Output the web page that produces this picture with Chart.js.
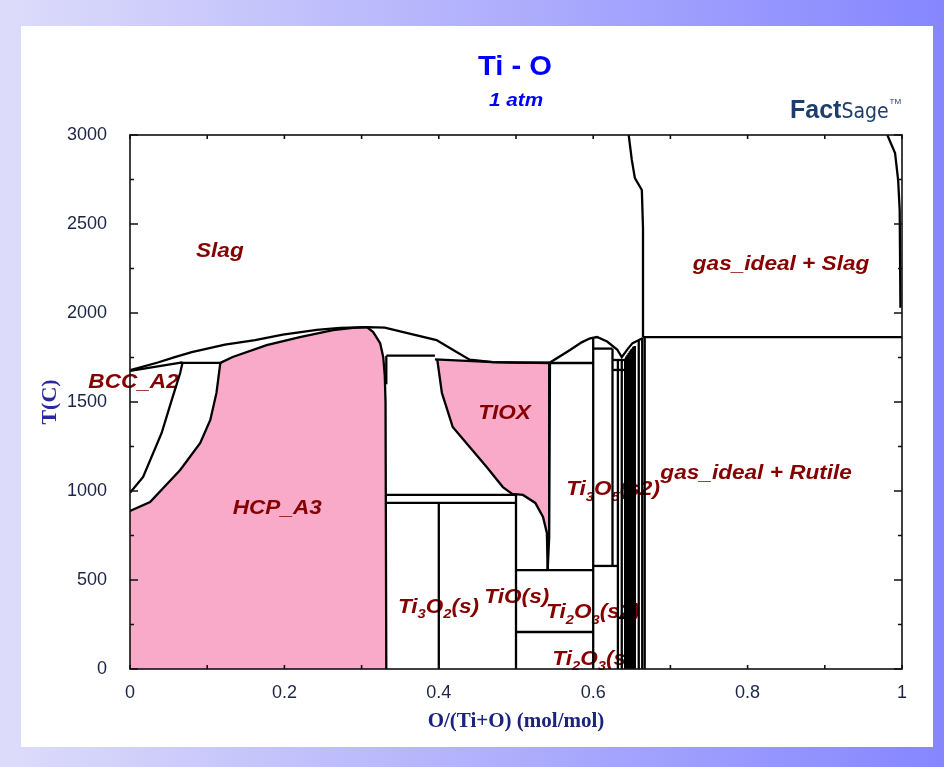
<!DOCTYPE html>
<html>
<head>
<meta charset="utf-8">
<script src="https://cdn.jsdelivr.net/npm/chart.js@4.4.0/dist/chart.umd.min.js"></script>
<style>
  body { margin: 0; }
  #fundo { position: relative; width: 944px; height: 767px; background: linear-gradient(to right, #dddcfa, #8686ff); overflow: hidden; }
  #painel { position: absolute; left: 21px; top: 26px; width: 912px; height: 721px; background: #fff; }
  #grafico { position: absolute; left: 0; top: 0; }
</style>
</head>
<body>
<div id="fundo">
  <div id="painel"></div>
  <canvas id="grafico" width="944" height="767"></canvas>
</div>
<script>
// eixos
const ticksT = [0, 500, 1000, 1500, 2000, 2500, 3000];
const ticksTMenor = [250, 750, 1250, 1750, 2250, 2750];
const ticksX = [0, 0.2, 0.4, 0.6, 0.8, 1];
const ticksXMenor = [0.1, 0.3, 0.5, 0.7, 0.9];

// regioes rosa [x, T]
const regiaoHcp = [[0, 0], [0, 888], [0.026, 938], [0.065, 1118], [0.091, 1270], [0.104, 1399], [0.112, 1551], [0.117, 1720], [0.133, 1753], [0.177, 1820], [0.22, 1865], [0.263, 1904], [0.289, 1916], [0.307, 1921], [0.315, 1893], [0.324, 1831], [0.328, 1753], [0.330, 1650], [0.331, 1500], [0.332, 0], [0, 0]];
const regiaoTiox = [[0.398, 1738], [0.404, 1551], [0.418, 1360], [0.44, 1247], [0.462, 1135], [0.483, 1022], [0.495, 984], [0.509, 978], [0.525, 933], [0.535, 854], [0.54, 764], [0.541, 560], [0.543, 742], [0.544, 1719], [0.47, 1724], [0.398, 1738]];

// linhas de fronteira
const liquidusTi = [[0, 1678], [0.036, 1722], [0.058, 1752], [0.08, 1780], [0.123, 1822], [0.162, 1848], [0.198, 1878], [0.242, 1905], [0.272, 1916], [0.307, 1921], [0.33, 1918], [0.354, 1893], [0.397, 1848], [0.423, 1781], [0.44, 1738], [0.47, 1724], [0.5, 1721]];
const liquidusMeio = [[0.5, 1721], [0.544, 1722], [0.57, 1792], [0.585, 1835], [0.596, 1858], [0.605, 1865], [0.618, 1840], [0.631, 1795], [0.637, 1752], [0.645, 1800], [0.651, 1831], [0.658, 1845], [0.6645, 1860]];
const solidusBcc = [[0, 1675], [0.036, 1700], [0.068, 1722]];
const limiteBcc = [[0.068, 1720], [0.065, 1663], [0.054, 1511], [0.041, 1326], [0.017, 1079], [0, 990]];
const limiteHcpBcc = [[0, 888], [0.026, 938], [0.065, 1118], [0.091, 1270], [0.104, 1399], [0.112, 1551], [0.117, 1720]];
const peritetico = [[0.065, 1720], [0.117, 1720]];
const solidusHcp = [[0.117, 1720], [0.133, 1753], [0.177, 1820], [0.22, 1865], [0.263, 1904], [0.289, 1916], [0.307, 1921]];
const limiteHcpDir = [[0.307, 1921], [0.315, 1893], [0.324, 1831], [0.328, 1753], [0.330, 1650], [0.331, 1500], [0.332, 0]];
const ti2oVertical = [[0.332, 1760], [0.332, 1600]];
const eutetico = [[0.332, 1760], [0.395, 1760]];
const tioxEsquerda = [[0.398, 1738], [0.404, 1551], [0.418, 1360], [0.44, 1247], [0.462, 1135], [0.483, 1022], [0.495, 984], [0.509, 978], [0.525, 933], [0.535, 854], [0.54, 764], [0.541, 556]];
const tioxTopo = [[0.395, 1740], [0.47, 1724], [0.544, 1719]];
const tioxDireita = [[0.544, 1719], [0.543, 742], [0.541, 556]];
const linhasSolidas = [
  [[0.332, 978], [0.5, 978]],
  [[0.332, 933], [0.5, 933]],
  [[0.4, 0], [0.4, 933]],
  [[0.5, 0], [0.5, 978]],
  [[0.5, 556], [0.6, 556]],
  [[0.5, 208], [0.6, 208]],
  [[0.544, 1719], [0.6, 1719]],
  [[0.6, 0], [0.6, 1858]],
  [[0.6, 1800], [0.625, 1800]],
  [[0.625, 579], [0.625, 1800]],
  [[0.6, 579], [0.632, 579]],
  [[0.632, 0], [0.632, 1736]],
  [[0.637, 0], [0.637, 1736]],
  [[0.625, 1736], [0.64, 1736]],
  [[0.625, 1680], [0.64, 1680]],
  [[0.632, 287], [0.643, 287]],
  [[0.659, 0], [0.659, 1842]],
  [[0.6635, 0], [0.6635, 1855]],
  [[0.6667, 0], [0.6667, 1865]]
];
const magneli = [0.6415, 0.6429, 0.6445, 0.6460, 0.6475, 0.649, 0.6505, 0.652, 0.6538];
const topoMagneli = [1745, 1755, 1765, 1775, 1785, 1795, 1800, 1810, 1815];
const gasSlagEsq = [[0.6645, 1865], [0.6645, 2478], [0.663, 2691], [0.654, 2758], [0.65, 2860], [0.646, 3000]];
const gasSlagDir = [[0.981, 3000], [0.991, 2899], [0.995, 2747], [0.997, 2579], [0.998, 2030]];
const linhaGas = [[0.6645, 1865], [1, 1865]];

const rotulos = [
  { t: 'Slag', x: 0.0855, T: 2343 },
  { t: 'BCC_A2', x: -0.054, T: 1607 },
  { t: 'HCP_A3', x: 0.133, T: 904 },
  { t: 'TIOX', x: 0.451, T: 1433 },
  { t: 'Ti_3O_5(s2)', x: 0.565, T: 1006 },
  { t: 'gas_ideal + Rutile', x: 0.687, T: 1101 },
  { t: 'gas_ideal + Slag', x: 0.729, T: 2275 },
  { t: 'Ti_3O_2(s)', x: 0.347, T: 348 },
  { t: 'TiO(s)', x: 0.459, T: 404 },
  { t: 'Ti_2O_3(s2)', x: 0.539, T: 315 },
  { t: 'Ti_2O_3(s', x: 0.547, T: 56 }
];

const rosa = '#f9aac8';
const fonte = '"Liberation Sans", Arial, sans-serif';

function pontos(lista) {
  return lista.map(p => ({ x: p[0], y: p[1] }));
}

function linha(lista, largura) {
  return {
    data: pontos(lista),
    showLine: true,
    borderColor: '#000',
    borderWidth: largura || 2.3,
    pointRadius: 0,
    fill: false,
    order: 0
  };
}

const datasets = [
  { data: pontos(regiaoHcp), showLine: true, borderWidth: 0, borderColor: rosa, backgroundColor: rosa, pointRadius: 0, fill: 'shape', order: 10 },
  { data: pontos(regiaoTiox), showLine: true, borderWidth: 0, borderColor: rosa, backgroundColor: rosa, pointRadius: 0, fill: 'shape', order: 10 }
];
[liquidusTi, liquidusMeio, solidusBcc, limiteBcc, limiteHcpBcc, peritetico, solidusHcp, limiteHcpDir,
 ti2oVertical, eutetico, tioxEsquerda, tioxTopo, tioxDireita, gasSlagEsq, gasSlagDir, linhaGas]
  .forEach(l => datasets.push(linha(l)));
linhasSolidas.forEach(l => datasets.push(linha(l)));
magneli.forEach((xm, i) => datasets.push(linha([[xm, 0], [xm, topoMagneli[i]]], 2.5)));

function textoEsticado(ctx, txt, x, y, esc) {
  ctx.save();
  ctx.translate(x, y);
  ctx.scale(esc, 1);
  ctx.fillText(txt, 0, 0);
  ctx.restore();
}

// texto com subscritos: "_3" vira indice
function rotuloComIndice(ctx, txt, x, y) {
  ctx.save();
  ctx.translate(x, y);
  ctx.scale(1.13, 1);
  let px = 0;
  const partes = txt.split(/(_\d)/);
  partes.forEach(p => {
    if (!p) return;
    if (/^_\d$/.test(p)) {
      ctx.font = 'italic bold 13px ' + fonte;
      ctx.fillText(p[1], px, 7);
      px += ctx.measureText(p[1]).width;
    } else {
      ctx.font = 'italic bold 20px ' + fonte;
      ctx.fillText(p, px, 0);
      px += ctx.measureText(p).width;
    }
  });
  ctx.restore();
}

const pluginRotulos = {
  id: 'rotulos',
  afterDatasetDraw(chart, args) {
    if (args.index !== 0) return;
    const { ctx, scales: { x, y } } = chart;
    ctx.save();
    ctx.fillStyle = '#850000';
    ctx.textBaseline = 'middle';
    ctx.textAlign = 'left';
    rotulos.forEach(r => {
      rotuloComIndice(ctx, r.t, x.getPixelForValue(r.x), y.getPixelForValue(r.T));
    });
    ctx.restore();
  }
};

const pluginMoldura = {
  id: 'moldura',
  afterDraw(chart) {
    const { ctx, chartArea: a, scales: { x, y } } = chart;
    ctx.save();
    ctx.strokeStyle = '#111';
    ctx.lineWidth = 1.6;
    ctx.strokeRect(a.left, a.top, a.right - a.left, a.bottom - a.top);
    ctx.beginPath();
    ticksT.forEach(t => {
      const py = y.getPixelForValue(t);
      ctx.moveTo(a.left, py); ctx.lineTo(a.left + 8, py);
      ctx.moveTo(a.right, py); ctx.lineTo(a.right - 8, py);
    });
    ticksTMenor.forEach(t => {
      const py = y.getPixelForValue(t);
      ctx.moveTo(a.left, py); ctx.lineTo(a.left + 4, py);
      ctx.moveTo(a.right, py); ctx.lineTo(a.right - 4, py);
    });
    ticksX.concat(ticksXMenor).forEach(v => {
      const px = x.getPixelForValue(v);
      ctx.moveTo(px, a.bottom); ctx.lineTo(px, a.bottom - 4);
      ctx.moveTo(px, a.top); ctx.lineTo(px, a.top + 4);
    });
    ctx.stroke();

    // titulo
    ctx.fillStyle = '#0000ff';
    ctx.textAlign = 'center';
    ctx.textBaseline = 'middle';
    ctx.font = 'bold 27px ' + fonte;
    textoEsticado(ctx, 'Ti - O', 515, 68, 1.08);
    ctx.font = 'italic bold 18px ' + fonte;
    textoEsticado(ctx, '1 atm', 516, 101, 1.15);

    // logo
    ctx.fillStyle = '#1d3d6d';
    ctx.textAlign = 'left';
    ctx.textBaseline = 'alphabetic';
    ctx.font = 'bold 25px ' + fonte;
    ctx.fillText('Fact', 790, 118);
    const w = ctx.measureText('Fact').width;
    ctx.font = '21px "Liberation Sans Narrow", "DejaVu Sans Condensed", sans-serif';
    ctx.fillText('Sage', 790 + w, 118);
    const w2 = ctx.measureText('Sage').width;
    ctx.font = '8px ' + fonte;
    ctx.fillText('TM', 791 + w + w2, 104);
    ctx.restore();
  }
};

new Chart(document.getElementById('grafico'), {
  type: 'scatter',
  data: { datasets: datasets },
  plugins: [pluginRotulos, pluginMoldura],
  options: {
    responsive: false,
    animation: false,
    layout: { padding: { left: 0, top: 135, right: 42, bottom: 0 } },
    plugins: {
      legend: { display: false },
      tooltip: { enabled: false },
      title: { display: false }
    },
    elements: { line: { tension: 0 } },
    scales: {
      x: {
        type: 'linear',
        min: 0,
        max: 1,
        afterFit(s) { s.height = 98; },
        afterBuildTicks(s) { s.ticks = ticksX.map(v => ({ value: v })); },
        grid: { display: false },
        border: { display: false },
        ticks: {
          padding: 5,
          color: '#1c2448',
          font: { size: 18, family: fonte },
          maxRotation: 0,
          callback: v => (v === 0 || v === 1) ? String(v) : v.toFixed(1)
        },
        title: {
          display: true,
          text: 'O/(Ti+O) (mol/mol)',
          color: '#1a237e',
          font: { size: 21, weight: 'bold', family: '"Liberation Serif", "Times New Roman", serif' },
          padding: { bottom: 33 }
        }
      },
      y: {
        type: 'linear',
        min: 0,
        max: 3000,
        afterFit(s) { s.width = 130; },
        afterBuildTicks(s) { s.ticks = ticksT.map(v => ({ value: v })); },
        grid: { display: false },
        border: { display: false },
        ticks: {
          padding: 15,
          color: '#1c2448',
          font: { size: 18, family: fonte },
          callback: v => String(v)
        },
        title: {
          display: true,
          text: 'T(C)',
          color: '#2a2a9c',
          font: { size: 22, weight: 'bold', family: '"Liberation Serif", "Times New Roman", serif' },
          padding: { top: 37 }
        }
      }
    }
  }
});
</script>
</body>
</html>
